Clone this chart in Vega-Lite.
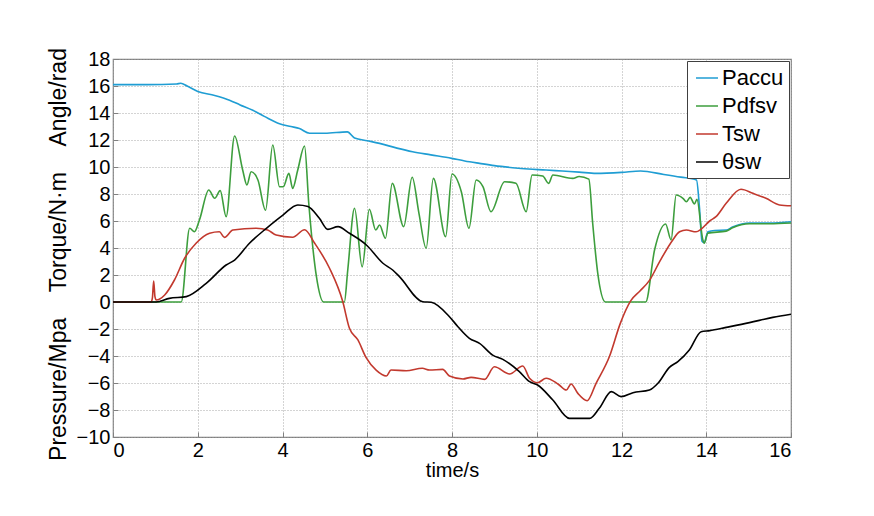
{
  "$schema": "https://vega.github.io/schema/vega-lite/v6.json",
  "autosize": "none",
  "width": 678,
  "height": 378,
  "padding": {"left": 113, "top": 59, "right": 83, "bottom": 79},
  "background": "white",
  "data": {
    "values": [
      {"series": "Paccu", "time": 0, "value": 16.1},
      {"series": "Paccu", "time": 0.8, "value": 16.1},
      {"series": "Paccu", "time": 1.5, "value": 16.15},
      {"series": "Paccu", "time": 1.6, "value": 16.2},
      {"series": "Paccu", "time": 1.75, "value": 16.0},
      {"series": "Paccu", "time": 2.0, "value": 15.6},
      {"series": "Paccu", "time": 2.4, "value": 15.3},
      {"series": "Paccu", "time": 2.75, "value": 14.95},
      {"series": "Paccu", "time": 3.0, "value": 14.6},
      {"series": "Paccu", "time": 3.3, "value": 14.2},
      {"series": "Paccu", "time": 3.57, "value": 13.75},
      {"series": "Paccu", "time": 3.93, "value": 13.2},
      {"series": "Paccu", "time": 4.2, "value": 13.0},
      {"series": "Paccu", "time": 4.4, "value": 12.85},
      {"series": "Paccu", "time": 4.64, "value": 12.5},
      {"series": "Paccu", "time": 5.0, "value": 12.5},
      {"series": "Paccu", "time": 5.53, "value": 12.6},
      {"series": "Paccu", "time": 5.7, "value": 12.15},
      {"series": "Paccu", "time": 6.0, "value": 11.95},
      {"series": "Paccu", "time": 6.29, "value": 11.75},
      {"series": "Paccu", "time": 6.7, "value": 11.4},
      {"series": "Paccu", "time": 7.07, "value": 11.13},
      {"series": "Paccu", "time": 7.5, "value": 10.9},
      {"series": "Paccu", "time": 7.99, "value": 10.64},
      {"series": "Paccu", "time": 8.3, "value": 10.45},
      {"series": "Paccu", "time": 8.65, "value": 10.27},
      {"series": "Paccu", "time": 9.0, "value": 10.1},
      {"series": "Paccu", "time": 9.43, "value": 9.95},
      {"series": "Paccu", "time": 9.8, "value": 9.85},
      {"series": "Paccu", "time": 10.22, "value": 9.78},
      {"series": "Paccu", "time": 10.6, "value": 9.7},
      {"series": "Paccu", "time": 11.0, "value": 9.62},
      {"series": "Paccu", "time": 11.4, "value": 9.53},
      {"series": "Paccu", "time": 12.0, "value": 9.6},
      {"series": "Paccu", "time": 12.45, "value": 9.7},
      {"series": "Paccu", "time": 13.0, "value": 9.45},
      {"series": "Paccu", "time": 13.4, "value": 9.25},
      {"series": "Paccu", "time": 13.77, "value": 9.04},
      {"series": "Paccu", "time": 13.84, "value": 7.0},
      {"series": "Paccu", "time": 13.9, "value": 4.5},
      {"series": "Paccu", "time": 13.95, "value": 4.4},
      {"series": "Paccu", "time": 14.04, "value": 5.2},
      {"series": "Paccu", "time": 14.2, "value": 5.3},
      {"series": "Paccu", "time": 14.47, "value": 5.33},
      {"series": "Paccu", "time": 14.62, "value": 5.55},
      {"series": "Paccu", "time": 15.02, "value": 5.85},
      {"series": "Paccu", "time": 15.5, "value": 5.85},
      {"series": "Paccu", "time": 16, "value": 5.95},

      {"series": "Pdfsv", "time": 0, "value": 0},
      {"series": "Pdfsv", "time": 1.61, "value": 0},
      {"series": "Pdfsv", "time": 1.81, "value": 5.46},
      {"series": "Pdfsv", "time": 1.92, "value": 5.2},
      {"series": "Pdfsv", "time": 2.04, "value": 6.07},
      {"series": "Pdfsv", "time": 2.26, "value": 8.3},
      {"series": "Pdfsv", "time": 2.4, "value": 7.68},
      {"series": "Pdfsv", "time": 2.53, "value": 8.25},
      {"series": "Pdfsv", "time": 2.67, "value": 6.32},
      {"series": "Pdfsv", "time": 2.87, "value": 12.3},
      {"series": "Pdfsv", "time": 3.06, "value": 9.78},
      {"series": "Pdfsv", "time": 3.16, "value": 8.67},
      {"series": "Pdfsv", "time": 3.26, "value": 9.65},
      {"series": "Pdfsv", "time": 3.42, "value": 9.04},
      {"series": "Pdfsv", "time": 3.6, "value": 6.8},
      {"series": "Pdfsv", "time": 3.77, "value": 11.63},
      {"series": "Pdfsv", "time": 3.93, "value": 8.54},
      {"series": "Pdfsv", "time": 4.02, "value": 8.54},
      {"series": "Pdfsv", "time": 4.15, "value": 9.53},
      {"series": "Pdfsv", "time": 4.24, "value": 8.42},
      {"series": "Pdfsv", "time": 4.36, "value": 9.78},
      {"series": "Pdfsv", "time": 4.52, "value": 11.56},
      {"series": "Pdfsv", "time": 4.62, "value": 7.3},
      {"series": "Pdfsv", "time": 4.8, "value": 1.9},
      {"series": "Pdfsv", "time": 4.97, "value": 0},
      {"series": "Pdfsv", "time": 5.46, "value": 0},
      {"series": "Pdfsv", "time": 5.54, "value": 2.37},
      {"series": "Pdfsv", "time": 5.7, "value": 6.94},
      {"series": "Pdfsv", "time": 5.88, "value": 2.6},
      {"series": "Pdfsv", "time": 6.05, "value": 6.87},
      {"series": "Pdfsv", "time": 6.2, "value": 5.33},
      {"series": "Pdfsv", "time": 6.29, "value": 5.7},
      {"series": "Pdfsv", "time": 6.43, "value": 4.72},
      {"series": "Pdfsv", "time": 6.59, "value": 8.79},
      {"series": "Pdfsv", "time": 6.86, "value": 5.58},
      {"series": "Pdfsv", "time": 7.06, "value": 9.24},
      {"series": "Pdfsv", "time": 7.22, "value": 6.57},
      {"series": "Pdfsv", "time": 7.39, "value": 3.98},
      {"series": "Pdfsv", "time": 7.56, "value": 9.16},
      {"series": "Pdfsv", "time": 7.85, "value": 4.84},
      {"series": "Pdfsv", "time": 8.0, "value": 9.48},
      {"series": "Pdfsv", "time": 8.22, "value": 8.17},
      {"series": "Pdfsv", "time": 8.4, "value": 5.46},
      {"series": "Pdfsv", "time": 8.57, "value": 9.04},
      {"series": "Pdfsv", "time": 8.73, "value": 8.54},
      {"series": "Pdfsv", "time": 8.92, "value": 6.69},
      {"series": "Pdfsv", "time": 9.24, "value": 8.91},
      {"series": "Pdfsv", "time": 9.51, "value": 8.79},
      {"series": "Pdfsv", "time": 9.75, "value": 6.69},
      {"series": "Pdfsv", "time": 9.89, "value": 9.41},
      {"series": "Pdfsv", "time": 10.14, "value": 9.33},
      {"series": "Pdfsv", "time": 10.28, "value": 8.79},
      {"series": "Pdfsv", "time": 10.38, "value": 9.41},
      {"series": "Pdfsv", "time": 10.85, "value": 9.16},
      {"series": "Pdfsv", "time": 11.0, "value": 9.3},
      {"series": "Pdfsv", "time": 11.23, "value": 9.1},
      {"series": "Pdfsv", "time": 11.32, "value": 5.83},
      {"series": "Pdfsv", "time": 11.44, "value": 2.12},
      {"series": "Pdfsv", "time": 11.62, "value": 0},
      {"series": "Pdfsv", "time": 12.57, "value": 0},
      {"series": "Pdfsv", "time": 12.78, "value": 3.85},
      {"series": "Pdfsv", "time": 13.04, "value": 5.78},
      {"series": "Pdfsv", "time": 13.17, "value": 4.6},
      {"series": "Pdfsv", "time": 13.29, "value": 7.93},
      {"series": "Pdfsv", "time": 13.45, "value": 7.68},
      {"series": "Pdfsv", "time": 13.53, "value": 7.43},
      {"series": "Pdfsv", "time": 13.62, "value": 7.75},
      {"series": "Pdfsv", "time": 13.72, "value": 7.26},
      {"series": "Pdfsv", "time": 13.78, "value": 7.6},
      {"series": "Pdfsv", "time": 13.92, "value": 4.6},
      {"series": "Pdfsv", "time": 13.95, "value": 4.35},
      {"series": "Pdfsv", "time": 14.04, "value": 5.1},
      {"series": "Pdfsv", "time": 14.47, "value": 5.25},
      {"series": "Pdfsv", "time": 14.62, "value": 5.5},
      {"series": "Pdfsv", "time": 15.02, "value": 5.8},
      {"series": "Pdfsv", "time": 15.5, "value": 5.8},
      {"series": "Pdfsv", "time": 16, "value": 5.85},

      {"series": "Tsw", "time": 0, "value": 0},
      {"series": "Tsw", "time": 0.9, "value": 0},
      {"series": "Tsw", "time": 0.93, "value": 0.3},
      {"series": "Tsw", "time": 0.96, "value": 1.56},
      {"series": "Tsw", "time": 0.99, "value": 0.4},
      {"series": "Tsw", "time": 1.02, "value": 0.15},
      {"series": "Tsw", "time": 1.22, "value": 0.52},
      {"series": "Tsw", "time": 1.45, "value": 1.63},
      {"series": "Tsw", "time": 1.69, "value": 3.24},
      {"series": "Tsw", "time": 1.96, "value": 4.35},
      {"series": "Tsw", "time": 2.28, "value": 5.09},
      {"series": "Tsw", "time": 2.51, "value": 5.2},
      {"series": "Tsw", "time": 2.63, "value": 4.79},
      {"series": "Tsw", "time": 2.83, "value": 5.33},
      {"series": "Tsw", "time": 3.38, "value": 5.46},
      {"series": "Tsw", "time": 3.65, "value": 5.33},
      {"series": "Tsw", "time": 3.85, "value": 4.96},
      {"series": "Tsw", "time": 4.24, "value": 4.8},
      {"series": "Tsw", "time": 4.52, "value": 5.35},
      {"series": "Tsw", "time": 4.76, "value": 4.35},
      {"series": "Tsw", "time": 5.11, "value": 2.5},
      {"series": "Tsw", "time": 5.42, "value": 0.05},
      {"series": "Tsw", "time": 5.58, "value": -1.95},
      {"series": "Tsw", "time": 5.78, "value": -2.81},
      {"series": "Tsw", "time": 5.97, "value": -4.1},
      {"series": "Tsw", "time": 6.21, "value": -5.04},
      {"series": "Tsw", "time": 6.45, "value": -5.48},
      {"series": "Tsw", "time": 6.56, "value": -5.04},
      {"series": "Tsw", "time": 6.92, "value": -5.09},
      {"series": "Tsw", "time": 7.3, "value": -4.91},
      {"series": "Tsw", "time": 7.47, "value": -5.04},
      {"series": "Tsw", "time": 7.78, "value": -4.99},
      {"series": "Tsw", "time": 7.94, "value": -5.48},
      {"series": "Tsw", "time": 8.26, "value": -5.7},
      {"series": "Tsw", "time": 8.45, "value": -5.58},
      {"series": "Tsw", "time": 8.77, "value": -5.73},
      {"series": "Tsw", "time": 9.0, "value": -4.8},
      {"series": "Tsw", "time": 9.36, "value": -5.33},
      {"series": "Tsw", "time": 9.67, "value": -4.74},
      {"series": "Tsw", "time": 9.83, "value": -5.65},
      {"series": "Tsw", "time": 10.02, "value": -5.98},
      {"series": "Tsw", "time": 10.22, "value": -5.65},
      {"series": "Tsw", "time": 10.5, "value": -6.07},
      {"series": "Tsw", "time": 10.7, "value": -6.52},
      {"series": "Tsw", "time": 10.81, "value": -6.07},
      {"series": "Tsw", "time": 10.97, "value": -6.77},
      {"series": "Tsw", "time": 11.19, "value": -7.31},
      {"series": "Tsw", "time": 11.4, "value": -6.02},
      {"series": "Tsw", "time": 11.72, "value": -4.0},
      {"series": "Tsw", "time": 11.97, "value": -1.6},
      {"series": "Tsw", "time": 12.22, "value": 0.1},
      {"series": "Tsw", "time": 12.43, "value": 0.8},
      {"series": "Tsw", "time": 12.66, "value": 1.6},
      {"series": "Tsw", "time": 12.9, "value": 2.99},
      {"series": "Tsw", "time": 13.21, "value": 4.6},
      {"series": "Tsw", "time": 13.37, "value": 5.2},
      {"series": "Tsw", "time": 13.53, "value": 5.33},
      {"series": "Tsw", "time": 13.76, "value": 5.2},
      {"series": "Tsw", "time": 13.88, "value": 5.4},
      {"series": "Tsw", "time": 14.08, "value": 6.0},
      {"series": "Tsw", "time": 14.23, "value": 6.32},
      {"series": "Tsw", "time": 14.47, "value": 7.31},
      {"series": "Tsw", "time": 14.82, "value": 8.35},
      {"series": "Tsw", "time": 15.1, "value": 8.05},
      {"series": "Tsw", "time": 15.41, "value": 7.68},
      {"series": "Tsw", "time": 15.73, "value": 7.19},
      {"series": "Tsw", "time": 16, "value": 7.13},

      {"series": "θsw", "time": 0, "value": 0},
      {"series": "θsw", "time": 1.02, "value": 0},
      {"series": "θsw", "time": 1.33, "value": 0.27},
      {"series": "θsw", "time": 1.73, "value": 0.4},
      {"series": "θsw", "time": 2.2, "value": 1.38},
      {"series": "θsw", "time": 2.67, "value": 2.74},
      {"series": "θsw", "time": 2.87, "value": 3.11},
      {"series": "θsw", "time": 3.22, "value": 4.35},
      {"series": "θsw", "time": 3.62, "value": 5.46},
      {"series": "θsw", "time": 4.01, "value": 6.44},
      {"series": "θsw", "time": 4.36, "value": 7.19},
      {"series": "θsw", "time": 4.6, "value": 7.08},
      {"series": "θsw", "time": 4.87, "value": 6.2},
      {"series": "θsw", "time": 5.07, "value": 5.38},
      {"series": "θsw", "time": 5.31, "value": 5.58},
      {"series": "θsw", "time": 5.58, "value": 5.09},
      {"series": "θsw", "time": 5.98, "value": 4.22},
      {"series": "θsw", "time": 6.37, "value": 2.87},
      {"series": "θsw", "time": 6.6, "value": 2.37},
      {"series": "θsw", "time": 6.76, "value": 1.88},
      {"series": "θsw", "time": 7.31, "value": 0.02},
      {"series": "θsw", "time": 7.51, "value": -0.02},
      {"series": "θsw", "time": 7.94, "value": -1.09},
      {"series": "θsw", "time": 8.14, "value": -1.83},
      {"series": "θsw", "time": 8.41, "value": -2.69},
      {"series": "θsw", "time": 8.65, "value": -3.06},
      {"series": "θsw", "time": 8.96, "value": -3.93},
      {"series": "θsw", "time": 9.2, "value": -4.25},
      {"series": "θsw", "time": 9.59, "value": -5.16},
      {"series": "θsw", "time": 9.83, "value": -5.9},
      {"series": "θsw", "time": 10.02, "value": -6.15},
      {"series": "θsw", "time": 10.38, "value": -7.26},
      {"series": "θsw", "time": 10.77, "value": -8.62},
      {"series": "θsw", "time": 11.25, "value": -8.62},
      {"series": "θsw", "time": 11.48, "value": -7.85},
      {"series": "θsw", "time": 11.76, "value": -6.64},
      {"series": "θsw", "time": 11.99, "value": -7.01},
      {"series": "θsw", "time": 12.27, "value": -6.72},
      {"series": "θsw", "time": 12.66, "value": -6.52},
      {"series": "θsw", "time": 12.86, "value": -6.02},
      {"series": "θsw", "time": 13.13, "value": -4.84},
      {"series": "θsw", "time": 13.33, "value": -4.42},
      {"series": "θsw", "time": 13.6, "value": -3.56},
      {"series": "θsw", "time": 13.88, "value": -2.2},
      {"series": "θsw", "time": 14.08, "value": -2.12},
      {"series": "θsw", "time": 14.47, "value": -1.88},
      {"series": "θsw", "time": 15.02, "value": -1.53},
      {"series": "θsw", "time": 15.57, "value": -1.14},
      {"series": "θsw", "time": 16, "value": -0.91}
    ]
  },
  "mark": {"type": "line", "strokeWidth": 1.6, "clip": true, "interpolate": "monotone"},
  "encoding": {
    "x": {
      "field": "time",
      "type": "quantitative",
      "title": "time/s",
      "scale": {"domain": [0, 16], "nice": false},
      "axis": {"values": [0, 2, 4, 6, 8, 10, 12, 14, 16], "format": "d", "titlePadding": 0}
    },
    "y": {
      "field": "value",
      "type": "quantitative",
      "title": "Pressure/Mpa\u00a0\u00a0\u00a0\u00a0Torque/N·m\u00a0\u00a0\u00a0\u00a0Angle/rad",
      "scale": {"domain": [-10, 18], "nice": false},
      "axis": {
        "values": [-10, -8, -6, -4, -2, 0, 2, 4, 6, 8, 10, 12, 14, 16, 18],
        "format": "d",
        "titleFontSize": 23,
        "titlePadding": 6,
        "titleY": 195
      }
    },
    "color": {
      "field": "series",
      "type": "nominal",
      "scale": {
        "domain": ["Paccu", "Pdfsv", "Tsw", "θsw"],
        "range": ["#1f9dd3", "#3d9e3d", "#c2392e", "#000000"]
      },
      "legend": {
        "title": null,
        "orient": "top-right",
        "offset": 2,
        "padding": 5,
        "fillColor": "white",
        "strokeColor": "#404040",
        "symbolType": "stroke",
        "symbolSize": 484,
        "symbolStrokeWidth": 1.5,
        "symbolOffset": 3,
        "labelFontSize": 22,
        "labelOffset": 3,
        "rowPadding": 5
      }
    }
  },
  "config": {
    "font": "Liberation Sans",
    "view": {"stroke": "#808080", "strokeWidth": 1.2},
    "axis": {
      "domain": false,
      "grid": true,
      "gridColor": "#a0a0a0",
      "gridDash": [1, 2],
      "gridOpacity": 0.9,
      "tickColor": "#808080",
      "tickSize": -5,
      "labelPadding": 8,
      "labelFontSize": 20,
      "labelColor": "#000000",
      "titleFontSize": 20,
      "titleFontWeight": "normal",
      "titleColor": "#000000"
    },
    "legend": {"labelColor": "#000000", "labelFont": "Liberation Sans"}
  }
}
